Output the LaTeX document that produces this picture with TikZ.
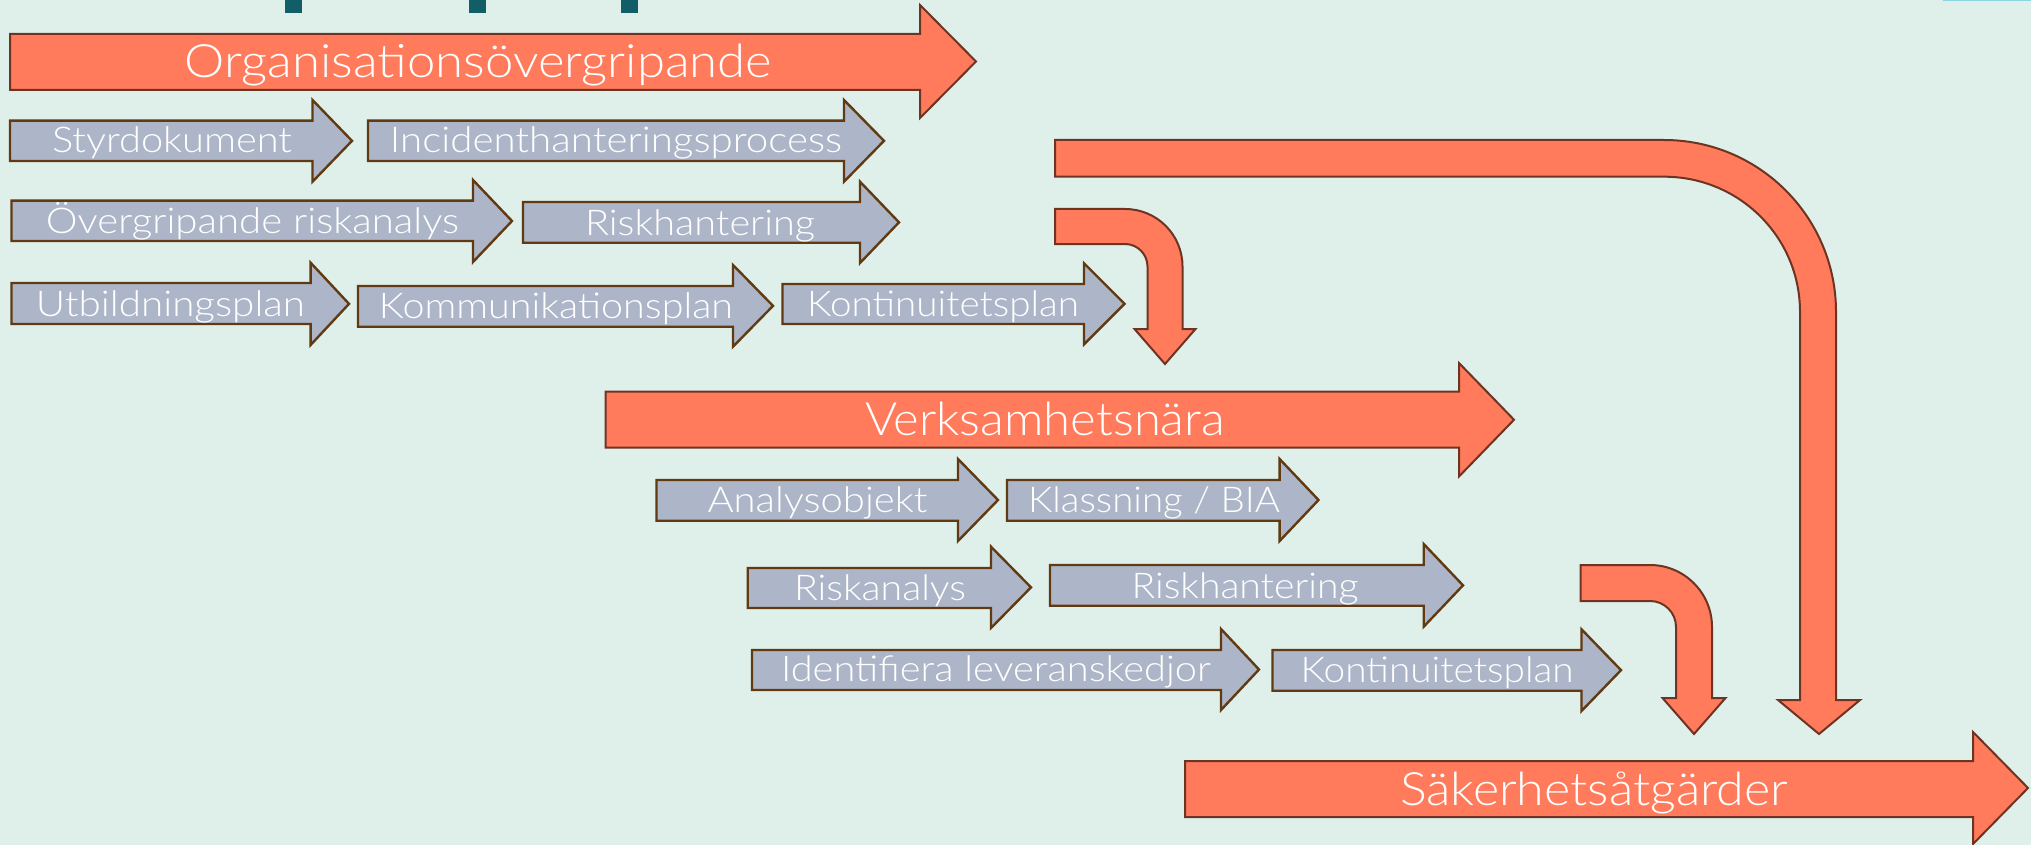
\documentclass[tikz,border=0pt]{standalone}
\usepackage{fontspec}
\usepackage{graphicx}
\setmainfont{Lato}[UprightFont={* Light}]
\definecolor{bgc}{RGB}{223,239,234}
\definecolor{orfill}{RGB}{255,123,91}
\definecolor{orline}{RGB}{110,52,35}
\definecolor{grfill}{RGB}{173,182,200}
\definecolor{grline}{RGB}{97,58,18}
\definecolor{tealc}{RGB}{18,94,102}
\definecolor{lblue}{RGB}{140,210,225}
\newcommand\bigf{\fontsize{46pt}{50pt}\selectfont}
\newcommand\smlf{\fontsize{35.5pt}{40pt}\selectfont}
\newcommand\fitw[2]{\resizebox{#1pt}{\height}{#2}}
% style, xl, xb, xt, body top, body bottom, head top, head bottom
\newcommand\harrow[8]{\draw[#1] (#2,#5) -- (#3,#5) -- (#3,#7) -- (#4,{(#7+#8)/2}) -- (#3,#8) -- (#3,#6) -- (#2,#6) -- cycle;}
\tikzset{
  orarrow/.style={fill=orfill, draw=orline, line width=2pt, line join=miter},
  grarrow/.style={fill=grfill, draw=grline, line width=2.4pt, line join=miter},
  biglbl/.style={anchor=base, text=white, inner sep=0pt, font=\bigf},
  smllbl/.style={anchor=base, text=white, inner sep=0pt, font=\smlf},
}
\begin{document}
\begin{tikzpicture}[x=1pt,y=-1pt]
\useasboundingbox (0,0) rectangle (2031,845);
\fill[bgc] (0,0) rectangle (2031,845);
% top marks
\fill[tealc] (285,0) rectangle (301.7,12.7);
\fill[tealc] (469,0) rectangle (486,12.7);
\fill[tealc] (621,0) rectangle (637.7,12.7);
\fill[lblue] (1943,0) rectangle (2031,1.5);

% big arrows
\harrow{orarrow}{10}{920}{976}{34}{90}{5}{118}
\harrow{orarrow}{605.5}{1459}{1514}{391.7}{447.7}{363}{476.5}
\harrow{orarrow}{1185}{1973}{2028}{761}{817}{732}{844}

% curved arrows
\draw[orarrow] (1055,140) -- (1664,140)
  .. controls (1759,140) and (1836,217) .. (1836,312)
  -- (1836,700) -- (1860,700) -- (1819,734) -- (1778,700) -- (1800,700)
  -- (1800,312) .. controls (1800,236.9) and (1739.1,176.7) .. (1664,176.7)
  -- (1055,176.7) -- cycle;
\draw[orarrow] (1055,209) -- (1125,209)
  .. controls (1156.8,209) and (1182.5,234.7) .. (1182.5,266.5)
  -- (1182.5,329) -- (1195.5,329) -- (1165,364) -- (1134.5,329) -- (1147.5,329)
  -- (1147.5,266.5) .. controls (1147.5,254.1) and (1137.4,244) .. (1125,244)
  -- (1055,244) -- cycle;
\draw[orarrow] (1580.7,565) -- (1650,565)
  .. controls (1684.2,565) and (1712,592.8) .. (1712,627)
  -- (1712,698) -- (1725.5,698) -- (1694,734) -- (1662.5,698) -- (1676,698)
  -- (1676,627) .. controls (1676,612.6) and (1664.4,601) .. (1650,601)
  -- (1580.7,601) -- cycle;

% small arrows
\harrow{grarrow}{10}{312.5}{352}{120.7}{161}{100}{181.7}
\harrow{grarrow}{368}{844}{884}{120.7}{161}{100}{181.7}
\harrow{grarrow}{11.5}{473}{512}{200.7}{241}{180}{262}
\harrow{grarrow}{523}{860}{899}{202}{242.7}{181.7}{263}
\harrow{grarrow}{11.5}{310.6}{349}{283}{324}{262.7}{345}
\harrow{grarrow}{358}{733}{773}{286}{326.7}{265}{346.7}
\harrow{grarrow}{782.5}{1084}{1124.5}{284}{324}{263.3}{344.3}
\harrow{grarrow}{656.5}{958}{998}{480}{520.7}{459}{541}
\harrow{grarrow}{1007}{1279.6}{1318.5}{480}{520.7}{459}{541}
\harrow{grarrow}{747.7}{991}{1031}{568}{608}{546.7}{628}
\harrow{grarrow}{1050}{1423.7}{1463}{565}{605.7}{544}{626.7}
\harrow{grarrow}{752}{1221}{1259}{650}{690}{629}{710}
\harrow{grarrow}{1272.5}{1581.5}{1621}{650}{690.7}{629.3}{711}

% labels
\node[biglbl] (org) at (478.5,78) {\fitw{587}{Organisationsövergripande}};
\node[smllbl] (styr) at (172,153) {\fitw{240}{Styrdokument}};
\node[smllbl] (incid) at (616,153) {\fitw{452}{Incidenthanteringsprocess}};
\node[smllbl] (overg) at (252.5,233) {\fitw{413}{Övergripande riskanalys}};
\node[smllbl] (riskh1) at (700,235) {\fitw{230}{Riskhantering}};
\node[smllbl] (utb) at (170.5,316.7) {\fitw{269}{Utbildningsplan}};
\node[smllbl] (komm) at (556,318) {\fitw{354}{Kommunikationsplan}};
\node[smllbl] (kont1) at (943,316) {\fitw{272}{Kontinuitetsplan}};
\node[biglbl] (verk) at (1045,435) {\fitw{360}{Verksamhetsnära}};
\node[smllbl] (analys) at (817.5,512.7) {\fitw{220}{Analysobjekt}};
\node[smllbl] (klass) at (1154,512.7) {\fitw{252}{Klassning / BIA}};
\node[smllbl] (riskan) at (880,600) {\fitw{172}{Riskanalys}};
\node[smllbl] (riskh2) at (1245,598.3) {\fitw{227}{Riskhantering}};
\node[smllbl] (ident) at (996,681.7) {\fitw{430}{Identifiera leveranskedjor}};
\node[smllbl] (kont2) at (1437,682.7) {\fitw{273}{Kontinuitetsplan}};
\node[biglbl] (sak) at (1594,805.7) {\fitw{388}{Säkerhetsåtgärder}};
\end{tikzpicture}
\end{document}
